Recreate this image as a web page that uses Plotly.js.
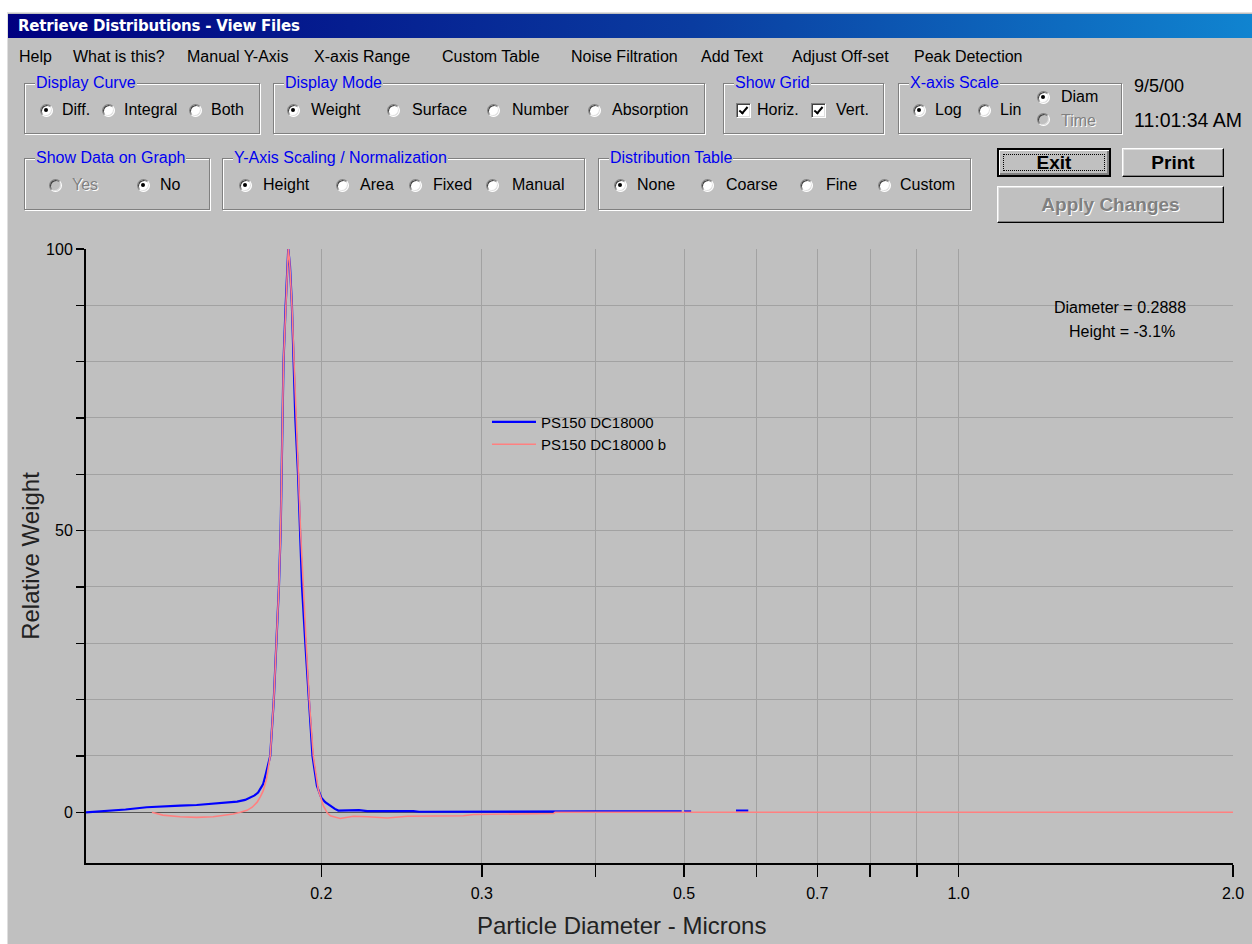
<!DOCTYPE html>
<html>
<head>
<meta charset="utf-8">
<script src="https://cdn.plot.ly/plotly-3.0.1.min.js"></script>
<style>
html,body{margin:0;padding:0;}
body{width:1252px;height:944px;background:#ffffff;position:relative;overflow:hidden;font-family:"Liberation Sans",Arial,sans-serif;}
#win{position:absolute;left:5px;top:10px;width:1247px;height:934px;background:#c0c0c0;border-left:2px solid #ffffff;border-top:2px solid #ffffff;box-sizing:border-box;box-shadow:inset 1px 1px 0 #dfdfdf;}
#titlebar{position:absolute;left:8px;top:14px;width:1244px;height:24px;background:linear-gradient(to right,#000080 0%,#0a3ca0 55%,#1084d0 100%);}
#titlebar span{position:absolute;left:10px;top:3px;color:#fff;font-family:"DejaVu Sans",sans-serif;font-weight:bold;font-size:15px;line-height:18px;white-space:nowrap;letter-spacing:-0.2px;}
.t{position:absolute;white-space:nowrap;font-size:16px;line-height:18px;color:#000;}
.dis{color:#808080;text-shadow:1px 1px 0 #ffffff;}
.g{position:absolute;border:1px solid #808080;box-shadow:1px 1px 0 #ffffff, inset 1px 1px 0 #ffffff;box-sizing:border-box;}
.gl{position:absolute;color:#0000f0;background:#c0c0c0;padding:0 1px;font-size:16px;line-height:18px;white-space:nowrap;}
.r{position:absolute;width:13px;height:13px;border-radius:50%;background:#fff;box-sizing:border-box;border:1px solid;border-color:#808080 #ffffff #ffffff #808080;box-shadow:inset 1px 1px 0 #404040, inset -1px -1px 0 #dfdfdf;}
.r.on::after{content:"";position:absolute;left:3.5px;top:3.5px;width:4px;height:4px;border-radius:50%;background:#000;}
.r.off{background:#c0c0c0;}
.cb{position:absolute;width:15px;height:15px;background:#fff;box-sizing:border-box;border:1px solid;border-color:#808080 #ffffff #ffffff #808080;box-shadow:inset 1px 1px 0 #404040, inset -1px -1px 0 #dfdfdf;}
.cb::after{content:"";position:absolute;left:4px;top:1px;width:3px;height:7px;border-right:2px solid #000;border-bottom:2px solid #000;transform:rotate(40deg);}
.btn{position:absolute;background:#c0c0c0;box-sizing:border-box;border:1px solid;border-color:#ffffff #000000 #000000 #ffffff;box-shadow:inset -1px -1px 0 #808080, inset 1px 1px 0 #dfdfdf;font-weight:bold;font-size:19px;text-align:center;color:#000;}
.btn.def{border:2px solid #000;box-shadow:inset 1px 1px 0 #ffffff, inset -2px -2px 0 #808080;}
.focus{position:absolute;left:4px;top:4px;right:4px;bottom:4px;border:1px dotted #000;}
#chart{position:absolute;left:0;top:220px;width:1252px;height:724px;}
</style>
</head>
<body>
<div id="win"></div>
<div id="titlebar"><span>Retrieve Distributions - View Files</span></div>
<div id="chart"></div>
<script>
// ---------------- chart data ----------------
var seriesNames = ["PS150 DC18000", "PS150 DC18000 b"];

var blueDiam = [0.1104, 0.1130, 0.1180, 0.1220, 0.1287, 0.1350, 0.1400, 0.1460, 0.1522, 0.1580,
  0.1617, 0.1650, 0.1671, 0.1690, 0.1705, 0.1718, 0.1727, 0.1740, 0.1758, 0.1774,
  0.1786, 0.1797, 0.1805, 0.1810, 0.1814, 0.1818, 0.1828, 0.1835, 0.1840, 0.1848,
  0.1857, 0.1865, 0.1873, 0.1886, 0.1895, 0.1905, 0.1921, 0.1937, 0.1956, 0.1978,
  0.2000, 0.2020, 0.2046, 0.2070, 0.2088, 0.2141, 0.2200, 0.2246, 0.2300, 0.2320,
  0.2330, 0.2424, 0.2440, 0.2524, 0.2560, 0.3044, 0.4000, 0.4970, 0.4985, 0.5000,
  0.5090, 0.5400, 0.5700, 0.5880];
var blueWeight = [0.0, 0.1, 0.35, 0.5, 0.9, 1.0, 1.2, 1.3, 1.5, 1.7,
  1.9, 2.2, 2.6, 3.0, 3.5, 4.3, 5.0, 7.0, 10, 20,
  30, 40, 50, 60, 70, 80, 90, 97, 100, 97,
  90, 80, 70, 60, 50, 40, 30, 20, 10, 4.7,
  2.6, 1.8, 1.1, 0.6, 0.3, 0.4, 0.4, 0.2, 0.2, 0.3,
  0.2, 0.2, 0.3, 0.2, 0.1, 0.15, 0.15, 0.15, null, 0.15,
  0.15, null, 0.3, 0.3];

var pinkDiam = [0.1304, 0.1340, 0.1400, 0.1460, 0.1522, 0.1560, 0.1601, 0.1630, 0.1658, 0.1680,
  0.1701, 0.1715, 0.1727, 0.1742, 0.1758, 0.1774, 0.1786, 0.1797, 0.1805, 0.1810,
  0.1814, 0.1818, 0.1829, 0.1836, 0.1840, 0.1846, 0.1857, 0.1867, 0.1876, 0.1888,
  0.1898, 0.1910, 0.1925, 0.1940, 0.1960, 0.1985, 0.2010, 0.2030, 0.2046, 0.2098,
  0.2169, 0.2250, 0.2363, 0.2486, 0.2864, 0.2938, 0.3598, 0.3610, 2.0];
var pinkWeight = [0.0, -0.5, -0.8, -0.9, -0.8, -0.6, -0.3, 0.0, 0.35, 0.9,
  1.8, 2.8, 3.8, 6.0, 10, 20, 30, 40, 50, 60,
  70, 80, 90, 97, 100, 98, 90, 80, 70, 60,
  50, 40, 30, 20, 10, 4.0, 1.2, -0.1, -0.6, -1.1,
  -0.7, -0.8, -1.0, -0.7, -0.6, -0.4, -0.2, 0.0, 0.0];

var xTickVals = [0.2, 0.3, 0.4, 0.5, 0.6, 0.7, 0.8, 0.9, 1.0, 2.0];
var xTickText = ["0.2", "0.3", "", "0.5", "", "0.7", "", "", "1.0", "2.0"];
var yTickVals = [0, 10, 20, 30, 40, 50, 60, 70, 80, 90, 100];
var yTickText = ["0", "", "", "", "", "50", "", "", "", "", "100"];
var cursorText = ["Diameter = 0.2888", "Height = -3.1%"];

// ---------------- window controls (static UI) ----------------
function add(cls, x, y, w, h, text) {
  var d = document.createElement('div');
  d.className = cls;
  d.style.left = x + 'px'; d.style.top = y + 'px';
  if (w != null) d.style.width = w + 'px';
  if (h != null) d.style.height = h + 'px';
  if (text != null) d.textContent = text;
  document.body.appendChild(d);
  return d;
}
function txt(x, cy, s, cls, size) {
  var d = add('t' + (cls ? ' ' + cls : ''), x, cy - 9, null, null, s);
  if (size) { d.style.fontSize = size + 'px'; d.style.lineHeight = '22px'; d.style.top = (cy - 11) + 'px'; }
  return d;
}
function group(x1, y1, x2, y2, label) {
  add('g', x1, y1, x2 - x1, y2 - y1);
  add('gl', x1 + 11, y1 - 9, null, null, label);
}
function radio(cx, cy, on, disabled) {
  add('r' + (on ? ' on' : '') + (disabled ? ' off' : ''), cx - 6.5, cy - 6.5, null, null);
}
function check(x, cy) { add('cb', x, cy - 7.5, null, null); }

var menu = [["Help", 19], ["What is this?", 73], ["Manual Y-Axis", 187], ["X-axis Range", 314],
  ["Custom Table", 442], ["Noise Filtration", 571], ["Add Text", 701], ["Adjust Off-set", 792], ["Peak Detection", 914]];
menu.forEach(function (m) { txt(m[1], 57, m[0]); });

group(24, 83, 260, 134, "Display Curve");
radio(46, 110, true); txt(62, 110, "Diff.");
radio(108, 110, false); txt(124, 110, "Integral");
radio(195, 110, false); txt(211, 110, "Both");

group(273, 83, 705, 134, "Display Mode");
radio(293, 110, true); txt(311, 110, "Weight");
radio(393, 110, false); txt(412, 110, "Surface");
radio(493, 110, false); txt(512, 110, "Number");
radio(594, 110, false); txt(612, 110, "Absorption");

group(723, 83, 884, 134, "Show Grid");
check(736, 110); txt(757, 110, "Horiz.");
check(811, 110); txt(836, 110, "Vert.");

group(898, 83, 1122, 134, "X-axis Scale");
radio(919, 110, true); txt(935, 110, "Log");
radio(984, 110, false); txt(1000, 110, "Lin");
radio(1043, 97, true); txt(1061, 97, "Diam");
radio(1043, 119, false, true); txt(1061, 121, "Time", "dis");

txt(1134, 86, "9/5/00", null, 18);
txt(1134, 120, "11:01:34 AM", null, 19.5);

group(24, 158, 210, 210, "Show Data on Graph");
radio(55, 185, false, true); txt(72, 185, "Yes", "dis");
radio(143, 185, true); txt(160, 185, "No");

group(222, 158, 585, 210, "Y-Axis Scaling / Normalization");
radio(245, 185, true); txt(263, 185, "Height");
radio(342, 185, false); txt(360, 185, "Area");
radio(415, 185, false); txt(433, 185, "Fixed");
radio(492, 185, false); txt(512, 185, "Manual");

group(598, 158, 971, 210, "Distribution Table");
radio(620, 185, true); txt(637, 185, "None");
radio(707, 185, false); txt(726, 185, "Coarse");
radio(806, 185, false); txt(826, 185, "Fine");
radio(884, 185, false); txt(900, 185, "Custom");

var ex = add('btn def', 997, 148, 114, 29);
ex.style.lineHeight = '25px';
var f = document.createElement('div'); f.className = 'focus'; ex.appendChild(f);
var et = document.createElement('span'); et.textContent = 'Exit'; ex.appendChild(et);
var pr = add('btn', 1122, 148, 102, 29, 'Print'); pr.style.lineHeight = '27px';
var ap = add('btn', 997, 186, 227, 37, 'Apply Changes');
ap.style.lineHeight = '35px'; ap.style.color = '#808080'; ap.style.textShadow = '1px 1px 0 #ffffff';

// ---------------- chart ----------------
var fontFam = '"Liberation Sans", Arial, sans-serif';
var traces = [
  {x: blueDiam, y: blueWeight, name: seriesNames[0], type: 'scatter', mode: 'lines',
   line: {color: '#0000ff', width: 2.2}, connectgaps: false},
  {x: pinkDiam, y: pinkWeight, name: seriesNames[1], type: 'scatter', mode: 'lines',
   line: {color: '#ff8080', width: 1.6}}
];
var layout = {
  width: 1252, height: 724,
  margin: {l: 86, r: 19, t: 29, b: 81, pad: 0},
  paper_bgcolor: 'rgba(0,0,0,0)',
  plot_bgcolor: '#c0c0c0',
  font: {family: fontFam, size: 16, color: '#000'},
  showlegend: true,
  legend: {x: 0.3496, y: 0.745, xanchor: 'left', yanchor: 'top', bgcolor: 'rgba(0,0,0,0)',
           borderwidth: 0, itemwidth: 44, font: {family: fontFam, size: 15, color: '#000'}, tracegroupgap: 0},
  xaxis: {
    type: 'log', range: [Math.log10(0.1104), Math.log10(2.0)],
    tickmode: 'array', tickvals: xTickVals, ticktext: xTickText,
    ticks: 'outside', ticklen: 12, tickwidth: 1.5, tickcolor: '#000',
    ticklabelstandoff: 3,
    showline: true, linecolor: '#000', linewidth: 2,
    showgrid: true, gridcolor: '#a2a2a2', gridwidth: 1,
    zeroline: false, automargin: false,
    tickfont: {family: fontFam, size: 16, color: '#000'}
  },
  yaxis: {
    range: [-9, 100],
    tickmode: 'array', tickvals: yTickVals, ticktext: yTickText,
    ticks: 'outside', ticklen: 8, tickwidth: 1.5, tickcolor: '#000',
    showline: true, linecolor: '#000', linewidth: 2,
    showgrid: true, gridcolor: '#a2a2a2', gridwidth: 1,
    zeroline: true, zerolinecolor: '#555555', zerolinewidth: 1.5,
    automargin: false,
    title: {text: 'Relative Weight', standoff: 0, font: {family: fontFam, size: 24, color: '#222'}},
    tickfont: {family: fontFam, size: 16, color: '#000'}
  },
  annotations: [
    {xref: 'paper', yref: 'paper', x: 0.467, y: -0.101, xanchor: 'center', yanchor: 'middle',
     text: 'Particle Diameter - Microns', showarrow: false, font: {family: fontFam, size: 24, color: '#222'}},
    {xref: 'paper', yref: 'paper', x: 0.9015, y: 0.904, xanchor: 'center', yanchor: 'middle',
     text: cursorText[0], showarrow: false, font: {family: fontFam, size: 16, color: '#000'}},
    {xref: 'paper', yref: 'paper', x: 0.9035, y: 0.865, xanchor: 'center', yanchor: 'middle',
     text: cursorText[1], showarrow: false, font: {family: fontFam, size: 16, color: '#000'}}
  ]
};
Plotly.newPlot('chart', traces, layout, {displayModeBar: false, staticPlot: true});
</script>
</body>
</html>
